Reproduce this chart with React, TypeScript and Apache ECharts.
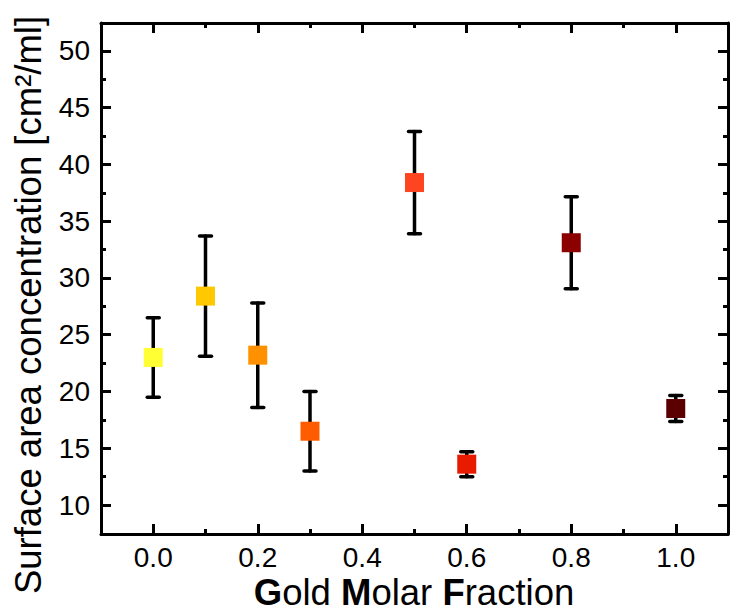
import React, { useEffect, useRef } from "react";
import * as echarts from "echarts";

// Gold molar fraction of each sample and its measured surface area concentration
const fractions = [0.0, 0.1, 0.2, 0.3, 0.5, 0.6, 0.8, 1.0];
const concentration = [23.0, 28.4, 23.2, 16.5, 38.4, 13.6, 33.1, 18.5];
const errors = [3.5, 5.3, 4.6, 3.5, 4.5, 1.1, 4.05, 1.15];
const colors = ["#FFFF33", "#FFC800", "#FF9100", "#FF5C00", "#FF4422", "#E81A00", "#8C0000", "#5A0000"];

// Axis ranges and tick positions
const xRange = [-0.1, 1.1];
const yRange = [7.45, 52.45];
const xMajor = [0, 0.2, 0.4, 0.6, 0.8, 1.0];
const xMinor = [0.1, 0.3, 0.5, 0.7, 0.9];
const yMajor = [10, 15, 20, 25, 30, 35, 40, 45, 50];
const yMinor = [12.5, 17.5, 22.5, 27.5, 32.5, 37.5, 42.5, 47.5];

const FONT = "Liberation Sans, Arial, Helvetica, sans-serif";

function makeAxis(kind: "x" | "y", position: string, ticks: number[], len: number, showLine: boolean, labels: boolean) {
  const [min, max] = kind === "x" ? xRange : yRange;
  return {
    type: "value",
    position,
    min,
    max,
    axisLine: { show: showLine, onZero: false, lineStyle: { color: "#000", width: 3 } },
    axisTick: {
      show: true,
      inside: true,
      length: len,
      customValues: ticks,
      lineStyle: { color: "#000", width: 3 },
    },
    axisLabel: labels
      ? {
          show: true,
          customValues: ticks,
          margin: kind === "x" ? 9 : 11,
          color: "#000",
          fontSize: 28,
          fontFamily: FONT,
          formatter: (v: number) => (kind === "x" ? v.toFixed(1) : String(Math.round(v))),
        }
      : { show: false },
    splitLine: { show: false },
    minorTick: { show: false },
  };
}

export default function App() {
  const ref = useRef<HTMLDivElement>(null);

  useEffect(() => {
    if (!ref.current) return;
    const chart = echarts.init(ref.current, undefined, { renderer: "svg" });

    const points = fractions.map((x, i) => ({
      value: [x, concentration[i]],
      itemStyle: { color: colors[i], opacity: 1 },
    }));
    const bars = fractions.map((x, i) => [x, concentration[i] - errors[i], concentration[i] + errors[i]]);

    chart.setOption({
      animation: false,
      backgroundColor: "#fff",
      grid: { left: 101, right: 2, top: 23, bottom: 77, containLabel: false, outerBoundsMode: "none" },
      xAxis: [
        makeAxis("x", "bottom", xMajor, 10, true, true),
        makeAxis("x", "bottom", xMinor, 5, false, false),
        makeAxis("x", "top", xMajor, 10, true, false),
        makeAxis("x", "top", xMinor, 5, false, false),
      ],
      yAxis: [
        makeAxis("y", "left", yMajor, 10, true, true),
        makeAxis("y", "left", yMinor, 5, false, false),
        makeAxis("y", "right", yMajor, 10, true, false),
        makeAxis("y", "right", yMinor, 5, false, false),
      ],
      graphic: [
        {
          type: "text",
          x: 28,
          y: 305,
          rotation: Math.PI / 2,
          style: {
            text: "Surface area concentration [cm²/ml]",
            fontSize: 36.5,
            fontFamily: FONT,
            fill: "#000",
            align: "center",
            verticalAlign: "middle",
          },
        },
        {
          type: "text",
          x: 414,
          y: 592,
          style: {
            text: "{b|G}old {b|M}olar {b|F}raction",
            fontSize: 36.5,
            fontFamily: FONT,
            fill: "#000",
            align: "center",
            verticalAlign: "middle",
            rich: {
              b: { fontSize: 36.5, fontFamily: FONT, fontWeight: "bold", fill: "#000" },
            },
          },
        },
      ],
      series: [
        {
          type: "custom",
          xAxisIndex: 0,
          yAxisIndex: 0,
          data: bars,
          z: 2,
          renderItem: (params: any, api: any) => {
            const x = api.value(0);
            const lo = api.coord([x, api.value(1)]);
            const hi = api.coord([x, api.value(2)]);
            const cap = 6;
            const style = { stroke: "#000", lineWidth: 3.5, lineCap: "round" };
            return {
              type: "group",
              children: [
                { type: "line", shape: { x1: lo[0], y1: lo[1], x2: hi[0], y2: hi[1] }, style },
                { type: "line", shape: { x1: lo[0] - cap, y1: lo[1], x2: lo[0] + cap, y2: lo[1] }, style },
                { type: "line", shape: { x1: hi[0] - cap, y1: hi[1], x2: hi[0] + cap, y2: hi[1] }, style },
              ],
            };
          },
        },
        {
          type: "scatter",
          xAxisIndex: 0,
          yAxisIndex: 0,
          symbol: "rect",
          symbolSize: 19,
          z: 3,
          itemStyle: { opacity: 1 },
          data: points,
        },
      ],
    });

    return () => chart.dispose();
  }, []);

  return <div ref={ref} style={{ width: 730, height: 611, position: "absolute", left: 0, top: 0 }} />;
}
